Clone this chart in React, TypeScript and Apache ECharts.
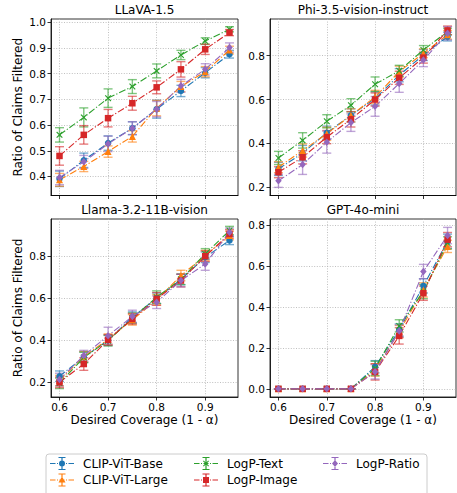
import React, { useEffect, useRef } from "react";
import * as echarts from "echarts";

// ---------- data ----------
const coverage = [0.6, 0.65, 0.7, 0.75, 0.8, 0.85, 0.9, 0.95];
const methods = ["CLIP-ViT-Base", "CLIP-ViT-Large", "LogP-Text", "LogP-Image", "LogP-Ratio"];
const panelTitles = ["LLaVA-1.5", "Phi-3.5-vision-instruct", "Llama-3.2-11B-vision", "GPT-4o-mini"];
const xTicks = [0.6, 0.7, 0.8, 0.9];
const yTicksLlava = [0.4, 0.5, 0.6, 0.7, 0.8, 0.9, 1.0];
const yTicksPhi = [0.2, 0.4, 0.6, 0.8];
const yTicksLlama = [0.2, 0.4, 0.6, 0.8];
const yTicksGpt = [0.0, 0.2, 0.4, 0.6, 0.8];
const yLabel = "Ratio of Claims Filtered";
const xLabel = "Desired Coverage (1 - α)";

// order of rows: CLIP-ViT-Base, CLIP-ViT-Large, LogP-Text, LogP-Image, LogP-Ratio
const llavaMeans = [
  [0.391, 0.463, 0.530, 0.588, 0.662, 0.733, 0.804, 0.876],
  [0.387, 0.439, 0.497, 0.556, 0.666, 0.750, 0.808, 0.892],
  [0.562, 0.630, 0.705, 0.750, 0.811, 0.873, 0.927, 0.973],
  [0.480, 0.562, 0.627, 0.685, 0.747, 0.817, 0.895, 0.960],
  [0.396, 0.457, 0.527, 0.588, 0.662, 0.753, 0.817, 0.902],
];
const llavaErrs = [
  [0.030, 0.028, 0.028, 0.025, 0.035, 0.022, 0.020, 0.015],
  [0.025, 0.020, 0.022, 0.022, 0.030, 0.020, 0.020, 0.015],
  [0.028, 0.037, 0.036, 0.027, 0.027, 0.018, 0.013, 0.010],
  [0.036, 0.036, 0.034, 0.027, 0.025, 0.030, 0.020, 0.012],
  [0.028, 0.025, 0.030, 0.025, 0.030, 0.025, 0.022, 0.018],
];
const phiMeans = [
  [0.284, 0.356, 0.449, 0.528, 0.605, 0.711, 0.803, 0.887],
  [0.292, 0.368, 0.444, 0.528, 0.612, 0.727, 0.811, 0.895],
  [0.334, 0.414, 0.501, 0.574, 0.670, 0.731, 0.826, 0.910],
  [0.269, 0.337, 0.429, 0.510, 0.600, 0.699, 0.791, 0.915],
  [0.230, 0.304, 0.406, 0.495, 0.569, 0.673, 0.780, 0.902],
];
const phiErrs = [
  [0.030, 0.035, 0.030, 0.030, 0.030, 0.030, 0.025, 0.020],
  [0.025, 0.030, 0.030, 0.030, 0.030, 0.025, 0.020, 0.020],
  [0.030, 0.035, 0.030, 0.030, 0.033, 0.025, 0.020, 0.015],
  [0.025, 0.030, 0.030, 0.035, 0.030, 0.030, 0.025, 0.020],
  [0.030, 0.045, 0.050, 0.040, 0.045, 0.040, 0.030, 0.030],
];
const llamaMeans = [
  [0.229, 0.320, 0.400, 0.510, 0.600, 0.689, 0.795, 0.875],
  [0.208, 0.322, 0.405, 0.497, 0.592, 0.708, 0.803, 0.898],
  [0.195, 0.318, 0.398, 0.505, 0.605, 0.690, 0.811, 0.922],
  [0.200, 0.287, 0.402, 0.502, 0.597, 0.684, 0.800, 0.906],
  [0.213, 0.327, 0.422, 0.513, 0.581, 0.684, 0.763, 0.914],
];
const llamaErrs = [
  [0.025, 0.025, 0.025, 0.025, 0.025, 0.025, 0.025, 0.020],
  [0.025, 0.025, 0.025, 0.025, 0.025, 0.025, 0.025, 0.020],
  [0.025, 0.025, 0.025, 0.025, 0.030, 0.025, 0.025, 0.020],
  [0.025, 0.030, 0.025, 0.025, 0.030, 0.030, 0.025, 0.020],
  [0.030, 0.025, 0.040, 0.030, 0.030, 0.030, 0.030, 0.020],
];
const gptMeans = [
  [0, 0, 0, 0, 0.108, 0.288, 0.504, 0.722],
  [0, 0, 0, 0, 0.092, 0.280, 0.484, 0.697],
  [0, 0, 0, 0, 0.100, 0.308, 0.476, 0.714],
  [0, 0, 0, 0, 0.083, 0.259, 0.468, 0.730],
  [0, 0, 0, 0, 0.083, 0.283, 0.574, 0.750],
];
const gptErrs = [
  [0, 0, 0, 0, 0.030, 0.030, 0.035, 0.035],
  [0, 0, 0, 0, 0.030, 0.030, 0.035, 0.030],
  [0, 0, 0, 0, 0.035, 0.030, 0.035, 0.030],
  [0, 0, 0, 0, 0.040, 0.040, 0.035, 0.035],
  [0, 0, 0, 0, 0.035, 0.030, 0.035, 0.040],
];

// ---------- styles ----------
const FONT = "DejaVu Sans";
const colors = ["#1f77b4", "#ff7f0e", "#2ca02c", "#d62728", "#9467bd"];
const X_PATH = "path://M0,1.2L1.2,0L5,3.8L8.8,0L10,1.2L6.2,5L10,8.8L8.8,10L5,6.2L1.2,10L0,8.8L3.8,5Z";
const markerSymbols = ["circle", "triangle", X_PATH, "rect", "diamond"];
const markerSizes: any[] = [6.5, 7, 6.5, 6.5, [6.5, 7.5]];
const LEGEND_BASE =
  "M0,6.5h5.5v1h-5.5z M7,6.5h1v1h-1z M9.5,6.5h5v1h-5z M16,6.5h1v1h-1z M18.5,6.5h5.5v1h-5.5z " +
  "M11.4,1h1.2v12h-1.2z M8.5,0.5h7v1h-7z M8.5,12.5h7v1h-7z ";
const legendMarkers = [
  "M9,7a3,3 0 1,1 6,0a3,3 0 1,1 -6,0z",
  "M12,3.5L15.5,9.5L8.5,9.5z",
  "M9,4.7L9.7,4L15,9.3L14.3,10z M14.3,4L15,4.7L9.7,10L9,9.3z",
  "M9,4h6v6h-6z",
  "M12,3.5L15,7L12,10.5L9,7z",
];

const grids = [
  { left: 51, top: 19, width: 187, height: 176.5 },
  { left: 270, top: 19, width: 186, height: 176.5 },
  { left: 51, top: 219, width: 187, height: 178 },
  { left: 270, top: 219, width: 186, height: 178 },
];
const yRanges = [
  [0.326, 1.013],
  [0.163, 0.967],
  [0.13, 0.977],
  [-0.04, 0.831],
];
const panelYTicks = [yTicksLlava, yTicksPhi, yTicksLlama, yTicksGpt];
const panelMeans = [llavaMeans, phiMeans, llamaMeans, gptMeans];
const panelErrs = [llavaErrs, phiErrs, llamaErrs, gptErrs];

function buildOption() {
  const xAxis: any[] = [];
  const yAxis: any[] = [];
  const series: any[] = [];
  const graphic: any[] = [];
  const gridLine = { show: true, lineStyle: { color: "#b0b0b0", width: 0.8, type: [1, 1.6] } };

  grids.forEach((g, p) => {
    const bottomRow = p >= 2;
    const leftCol = p % 2 === 0;
    xAxis.push({
      type: "value",
      gridIndex: p,
      min: 0.5825,
      max: 0.9675,
      axisLine: { show: true, onZero: false, lineStyle: { color: "#000", width: 0.8 } },
      axisTick: { show: true, length: 3.5, customValues: xTicks, lineStyle: { color: "#000", width: 0.8 } },
      axisLabel: {
        show: bottomRow,
        customValues: xTicks,
        formatter: (v: number) => v.toFixed(1),
        fontFamily: FONT,
        fontSize: 10.5,
        color: "#000",
        margin: 4,
      },
      splitLine: gridLine,
      name: bottomRow ? xLabel : "",
      nameLocation: "middle",
      nameGap: 17,
      nameTextStyle: { fontFamily: FONT, fontSize: 12, color: "#000", verticalAlign: "top" },
    });
    yAxis.push({
      type: "value",
      gridIndex: p,
      min: yRanges[p][0],
      max: yRanges[p][1],
      axisLine: { show: true, onZero: false, lineStyle: { color: "#000", width: 0.8 } },
      axisTick: { show: true, length: 3.5, customValues: panelYTicks[p], lineStyle: { color: "#000", width: 0.8 } },
      axisLabel: {
        show: true,
        customValues: panelYTicks[p],
        formatter: (v: number) => v.toFixed(1),
        fontFamily: FONT,
        fontSize: 10.5,
        color: "#000",
        margin: 5,
      },
      splitLine: gridLine,
      name: leftCol ? yLabel : "",
      nameLocation: "middle",
      nameGap: 27,
      nameTextStyle: { fontFamily: FONT, fontSize: 12, color: "#000" },
    });

    graphic.push({
      type: "text",
      x: g.left + g.width / 2,
      y: g.top - 9,
      style: {
        text: panelTitles[p],
        fontFamily: FONT,
        fontSize: 12,
        fill: "#000",
        align: "center",
        verticalAlign: "middle",
      },
    });

    methods.forEach((m, k) => {
      const color = colors[k];
      const data = coverage.map((c, i) => [c, panelMeans[p][k][i], panelErrs[p][k][i]]);
      series.push({
        type: "custom",
        name: m + " (error)",
        xAxisIndex: p,
        yAxisIndex: p,
        encode: { x: 0, y: 1 },
        data,
        silent: true,
        renderItem: (params: any, api: any) => {
          const x = api.value(0);
          const y = api.value(1);
          const e = api.value(2);
          const top = api.coord([x, y + e]);
          const bot = api.coord([x, y - e]);
          const hw = 4.5;
          const st = { stroke: color, lineWidth: 1.4, opacity: 0.6 };
          return {
            type: "group",
            children: [
              { type: "line", shape: { x1: top[0], y1: top[1], x2: bot[0], y2: bot[1] }, style: st },
              { type: "line", shape: { x1: top[0] - hw, y1: top[1], x2: top[0] + hw, y2: top[1] }, style: st },
              { type: "line", shape: { x1: bot[0] - hw, y1: bot[1], x2: bot[0] + hw, y2: bot[1] }, style: st },
            ],
          };
        },
      });
      series.push({
        type: "line",
        name: m,
        xAxisIndex: p,
        yAxisIndex: p,
        data: coverage.map((c, i) => [c, panelMeans[p][k][i]]),
        symbol: markerSymbols[k],
        symbolSize: markerSizes[k],
        showSymbol: true,
        itemStyle: { color, borderWidth: 0 },
        lineStyle: { color, width: 1.1, type: [7, 2, 1.2, 2] },
        emphasis: { disabled: true },
        silent: true,
      });
    });
  });

  graphic.push({
    type: "rect",
    shape: { x: 46, y: 454, width: 381, height: 46, r: 3 },
    style: { fill: "rgba(255,255,255,0.8)", stroke: "#cccccc", lineWidth: 1 },
    z: -10,
  });

  const legendItem = (k: number) => ({
    name: methods[k],
    icon: "path://" + LEGEND_BASE + legendMarkers[k],
  });
  const legendCommon = {
    orient: "vertical",
    top: 457,
    itemWidth: 24,
    itemHeight: 14,
    itemGap: 3.4,
    padding: 0,
    selectedMode: false,
    itemStyle: { borderWidth: 0 },
    textStyle: { fontFamily: FONT, fontSize: 12, color: "#000", padding: [0, 0, 0, 4] },
  };
  const legend = [
    { ...legendCommon, left: 50, data: [legendItem(0), legendItem(1)] },
    { ...legendCommon, left: 194, data: [legendItem(2), legendItem(3)] },
    { ...legendCommon, left: 323, data: [legendItem(4)] },
  ];

  return {
    animation: false,
    backgroundColor: "#ffffff",
    textStyle: { fontFamily: FONT },
    grid: grids.map((g) => ({ ...g, show: true, borderColor: "#000", borderWidth: 0.8, backgroundColor: "transparent" })),
    xAxis,
    yAxis,
    series,
    legend,
    graphic,
  };
}

export default function App() {
  const ref = useRef<HTMLDivElement>(null);
  useEffect(() => {
    if (!ref.current) return;
    const chart = echarts.init(ref.current, undefined, { renderer: "svg" });
    chart.setOption(buildOption() as any);
    return () => chart.dispose();
  }, []);
  return (
    <div
      ref={ref}
      style={{ position: "fixed", left: 0, top: 0, width: 457, height: 493, background: "#fff" }}
    />
  );
}
